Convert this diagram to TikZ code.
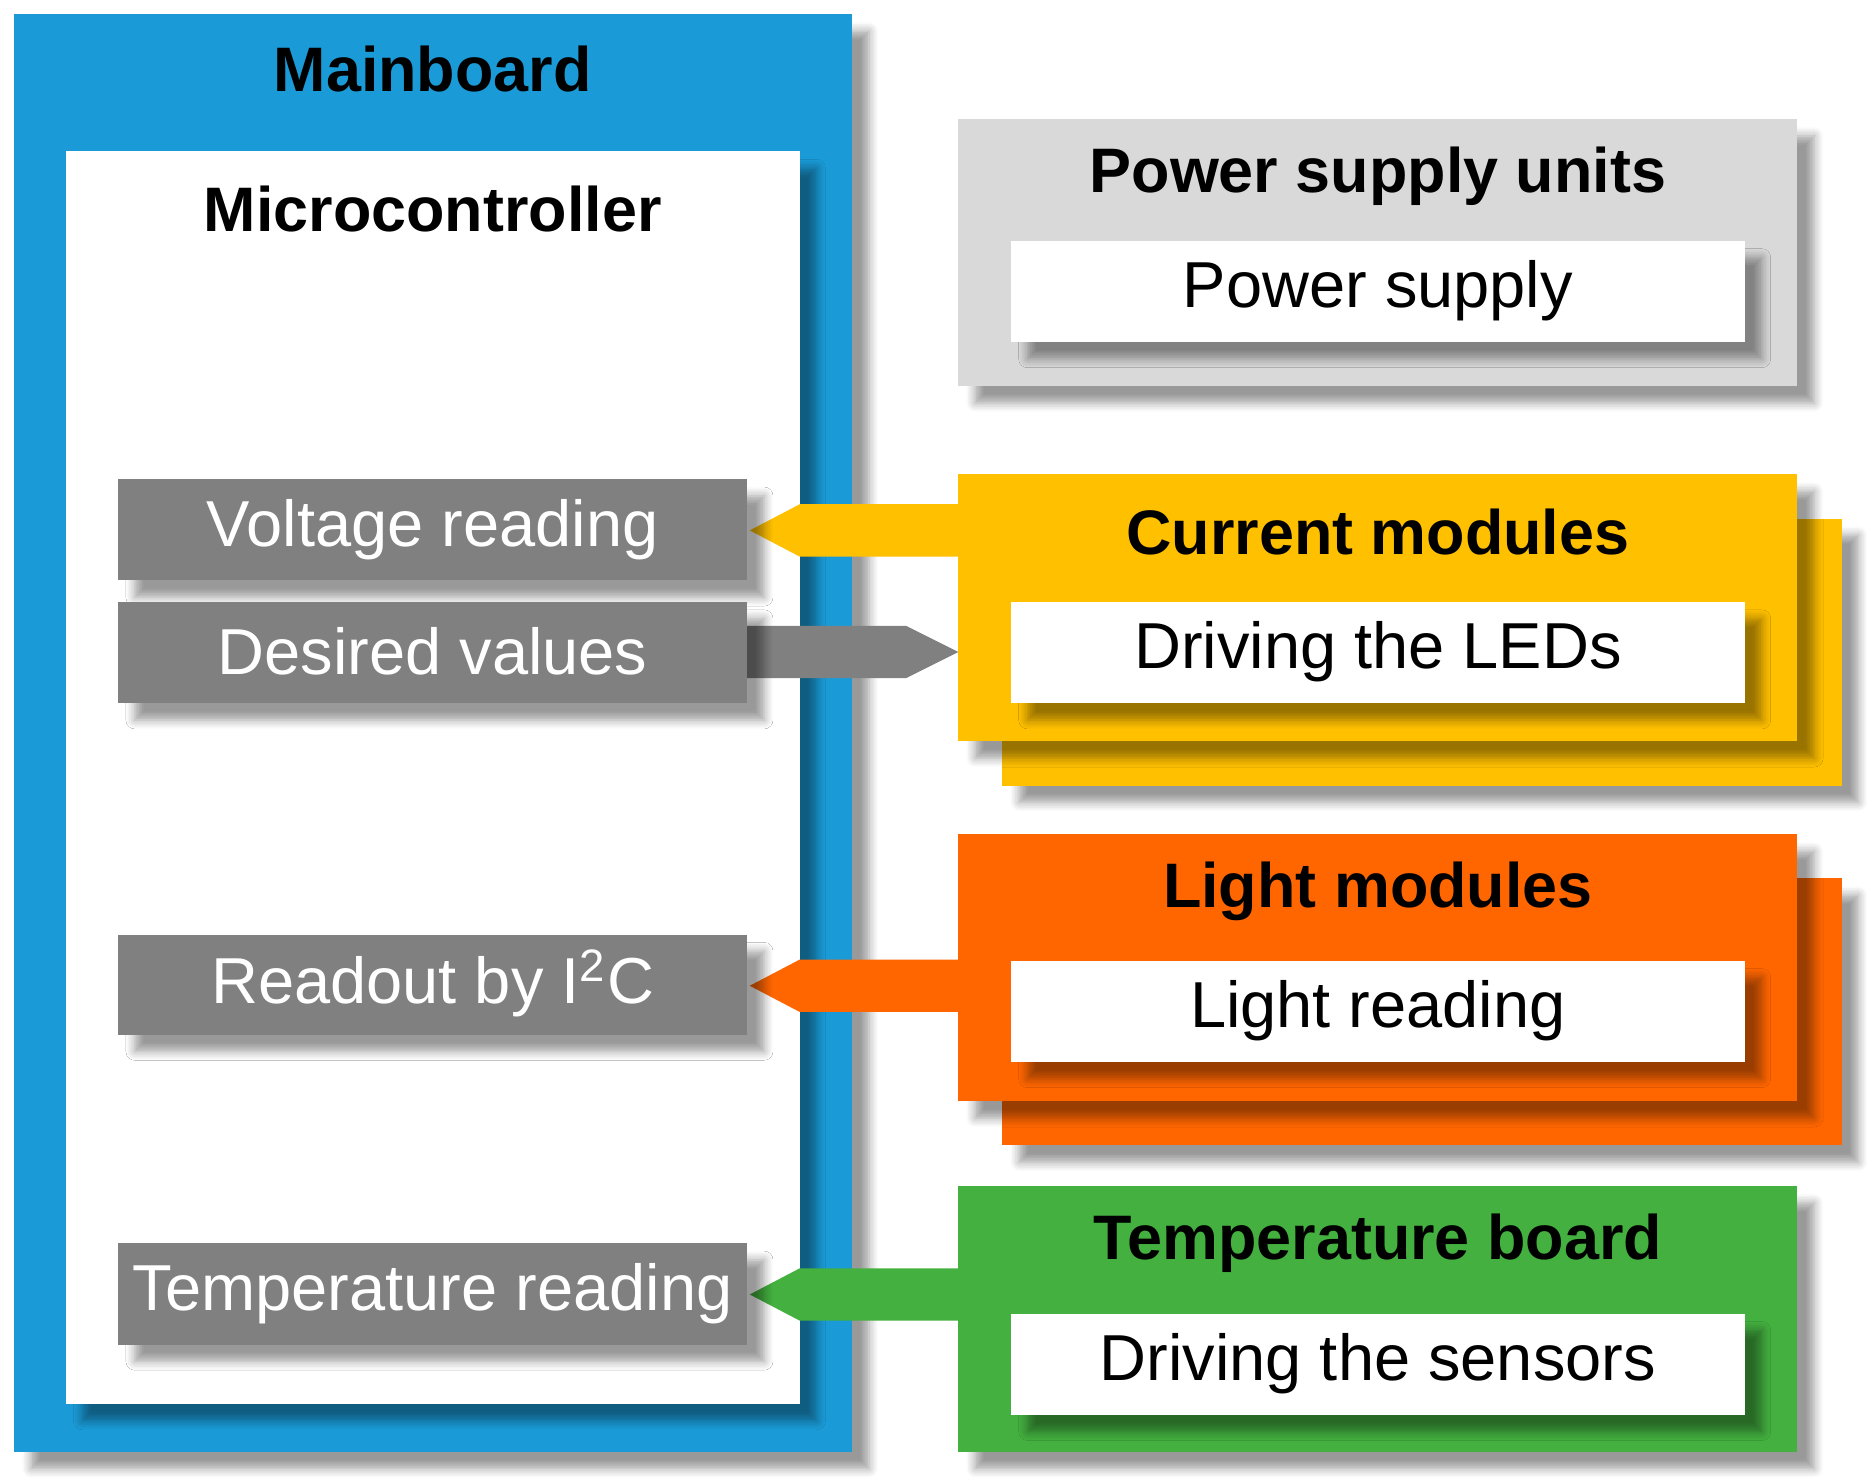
\documentclass[tikz,border=0pt]{standalone}
\usepackage{fontspec}
\setmainfont{Liberation Sans}
\usetikzlibrary{shadows.blur}
\definecolor{mblue}{HTML}{1A9BD7}
\definecolor{mgray}{HTML}{808080}
\definecolor{lgray}{HTML}{D9D9D9}
\definecolor{myel}{HTML}{FFC000}
\definecolor{mor}{HTML}{FF6600}
\definecolor{mgreen}{HTML}{43B03F}
\begin{document}
\begin{tikzpicture}[x=0.01cm,y=-0.01cm,
  sh/.style={blur shadow={shadow xshift=4pt,shadow yshift=-4pt,shadow blur steps=6,shadow opacity=40}},
  box/.style={sh,draw=none},
  title/.style={font=\fontsize{15}{18}\selectfont\bfseries},
  txt/.style={font=\fontsize{15.5}{18}\selectfont},
  gbox/.style={box,fill=mgray},
  wbox/.style={box,fill=white}]
\useasboundingbox (0,0) rectangle (1568,1245);
% mainboard
\path[box,fill=mblue] (12,12) rectangle (715,1218);
\node[title] (mb) at (363,58) {Mainboard};
\path[box,fill=white] (55,127) rectangle (671,1178);
\node[title] (mc) at (363,175) {Microcontroller};
% right blocks
\path[box,fill=lgray] (804,100) rectangle (1508,324);
\node[title] (psu) at (1156,148) {Power supply units};
\path[wbox] (848,202) rectangle (1464,287);
\node[txt] (ps) at (1156,244) {Power supply};

\path[box,fill=myel] (841,435) rectangle (1545,659);
\path[box,fill=myel] (804,398) rectangle (1508,622);
\node[title] (cm) at (1156,446) {Current modules};
\path[wbox] (848,505) rectangle (1464,590);
\node[txt] (dl) at (1156,547) {Driving the LEDs};

\path[box,fill=mor] (841,737) rectangle (1545,961);
\path[box,fill=mor] (804,700) rectangle (1508,924);
\node[title] (lm) at (1156,748) {Light modules};
\path[wbox] (848,806) rectangle (1464,891);
\node[txt] (lr) at (1156,848) {Light reading};

\path[box,fill=mgreen] (804,995) rectangle (1508,1218);
\node[title] (tb) at (1156,1043) {Temperature board};
\path[wbox] (848,1102) rectangle (1464,1187);
\node[txt] (ds) at (1156,1144) {Driving the sensors};
% arrows
\fill[myel] (804,423) -- (671,423) -- (629,445) -- (671,467) -- (804,467) -- cycle;
\fill[mor] (804,805) -- (671,805) -- (629,827) -- (671,849) -- (804,849) -- cycle;
\fill[mgreen] (804,1064) -- (671,1064) -- (629,1086) -- (671,1108) -- (804,1108) -- cycle;
\fill[mgray] (620,525) -- (760,525) -- (804,547) -- (760,569) -- (620,569) -- cycle;
% gray boxes
\path[gbox] (99,402) rectangle (627,487);
\node[txt,text=white] (vr) at (363,444) {Voltage reading};
\path[gbox] (99,505) rectangle (627,590);
\node[txt,text=white] (dv) at (363,546) {Desired values};
\path[gbox] (99,784) rectangle (627,868);
\node[txt,text=white] (ro) at (363,825) {Readout by I\textsuperscript{2}C};
\path[gbox] (99,1043) rectangle (627,1128);
\node[txt,text=white] (tr) at (363,1085) {Temperature reading};
\end{tikzpicture}
\end{document}
